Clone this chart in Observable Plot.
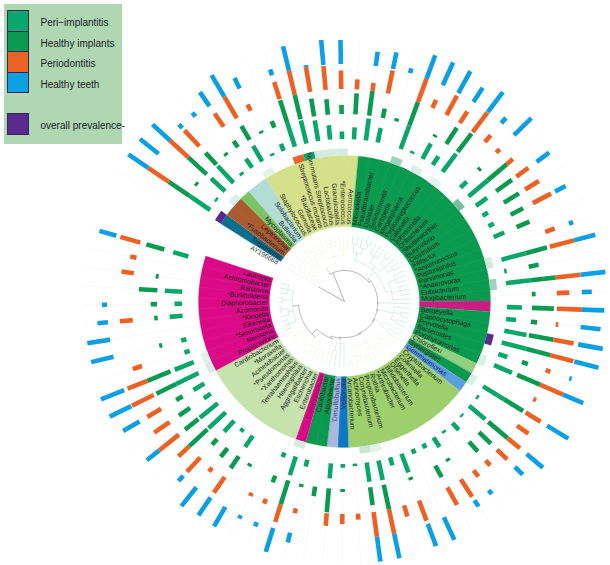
<!DOCTYPE html>
<html>
<head>
<meta charset="utf-8">
<script src="https://cdn.jsdelivr.net/npm/d3@7"></script>
<script src="https://cdn.jsdelivr.net/npm/@observablehq/plot@0.6"></script>
<style>
html,body{margin:0;padding:0;background:#fff}
#wrap{position:relative;width:610px;height:565px;overflow:hidden}
#legend{position:absolute;left:4px;top:4px;width:118px;height:140px;background:#aed7b2;
 font:10px "Liberation Sans",Arial,sans-serif;color:#1c1c2a}
#legend .s{position:absolute;left:3px;width:19.6px;box-sizing:content-box;border:.7px solid #2b2a55}
#legend .t{position:absolute;left:36.5px;white-space:nowrap;line-height:12px}
</style>
</head>
<body>
<div id="wrap"><div id="chart"></div>
<div id="legend">
 <div class="s" style="top:6px;height:19.6px;background:#0aa76c"></div><div class="t" style="top:13px">Peri−implantitis</div>
 <div class="s" style="top:26.5px;height:19.6px;background:#0a9a50"></div><div class="t" style="top:33.5px">Healthy implants</div>
 <div class="s" style="top:47px;height:19.6px;background:#ee6125"></div><div class="t" style="top:54px">Periodontitis</div>
 <div class="s" style="top:67.5px;height:19.6px;background:#0d9fe3"></div><div class="t" style="top:74.5px">Healthy teeth</div>
 <div class="s" style="top:109px;height:20px;background:#5b2a8e"></div><div class="t" style="top:115.5px">overall prevalence-</div>
</div></div>
<script>
// leaves run clockwise, first leaf is AY196668
const genera = ["AY196668","Treponema","*Fusobacterium","Leptotrichia","Mycoplasma","Bulleidia","Solobacterium",
"Staphylococcus","Gemella","*Bacillaceae","Streptococcus mutans","Non-mutans Streptococci","Lactobacillus","Granulicatella","*Enterococcus","Aerococcus",
"Mitsuokella","Pseudoramibacter","Dialister","Selenomonas","Centipeda","Megasphaera","Peptostreptococcus","Catonella","Johnsonella","Oribacterium","Shuttleworthia","Butyrivibrio","Clostridium","Filifactor","*Anaerococcus","Peptoniphilus","Parvimonas","*Anaerovorax","Eubacterium","Mogibacterium",
"",
"Bergeyella","Capnocytophaga","Prevotella","Bacteroides","Porphyromonas","Chloroflexi","Synergistes","Gemmatimonas",
"Cryptobacterium","Collinsella","Eggerthella","Olsenella","Bifidobacterium","Microbacterium","*Arthrobacter","Rothia","Propionibacterium","Corynebacterium","Actinomyces","Arcanobacterium",
"Veillonella","'Desulfobulbus","Atopobacter","Caulobacter","Campylobacter",
"Enterobacter","Escherichia","Aggregatibacter","Haemophilus","Terrahaemophilus","*Xanthomonas","*Pseudomonas","Acinetobacter","*Moraxella","Cardiobacterium",
"Propionivibrio","Neisseria","*Simonsiella","Eikenella","*Kingella","Azomonas","Diaphorobacter","*Burkholderia","Ralstonia","Achromobacter","Lautropia"];

const periImplantitis = [0,1,.1,.76,.92,.12,.44,.72,.1,.3,1,.95,.84,.58,.3,.48,.88,.59,0,1,.1,.7,.42,.9,0,.35,1,.55,.25,.24,.46,0,1,.1,1,0,.6,.4,.9,1,.38,.78,0,1,.1,.84,.08,.38,.1,.45,.2,.2,.8,.33,.8,.78,.1,.15,.6,0,.28,.78,.2,0,0,.55,.15,.59,.93,.92,.33,.5,1,.82,.22,.22,0,.52,.3,.7,0,0,.63];
const healthyImplants = [0,1,.12,1,.64,.12,.3,.64,.1,.28,.95,1,.72,.62,.36,.84,1,.38,.12,1,0,.1,.78,.92,0,.12,1,.78,.71,.56,.56,0,.88,.4,1,.15,.88,.25,1,1,.25,1,0,.88,0,1,.66,.53,0,.12,.53,0,.12,0,1,.72,0,.12,.96,.38,.12,1,.28,0,.12,.57,.44,.3,1,.68,.54,.3,.88,1,0,.12,0,.14,.25,.74,.12,0,.75];
const periodontitis = [0,1,0,1,.87,0,.64,1,.28,0,.72,1,1,.96,.74,.4,.32,.94,0,1,.36,.88,.55,.98,.36,.2,.32,.59,.65,.82,0,.4,1,0,1,.5,1,.1,.82,.96,.2,1,.12,.7,.56,.65,.57,.27,.32,.83,.8,0,.86,.46,1,1,.24,.4,.5,0,.2,.74,.2,.15,0,.76,.2,.78,.58,1,.74,.64,.97,.85,.39,0,0,.52,0,0,.5,.26,.83];
const healthyTeeth = [0,.96,.95,.95,.2,.2,.68,1,.46,0,.25,1,.08,1,.96,0,.58,.68,.2,1,1,1,.68,1,.28,.97,0,.62,0,.48,0,.18,.88,0,1,.4,.9,.8,1,1,.1,.88,0,1,0,.85,.44,0,.2,.3,0,1,.95,0,1,1,0,0,0,0,.4,1,.18,.15,.9,.86,.97,.28,0,.64,0,.76,.96,1,0,.92,.92,.42,.2,0,0,0,.7];

// overall prevalence strip: leaf position (from first leaf) and colour
const stripLeaves = [1,3,7,10,11,12,13,14,19,21,23,26,32,34,39,41,43,54,55,61,72,73];
const stripColors = ["#5b2a8e","#dcefe6","#e3f2ea","#ee6125","#0aa76c","#d5ebe1","#d5ebe1","#d5ebe1","#9fd2ba","#dcefe6","#e3f2ea","#78bfa0","#d5ebe1","#9fd2ba","#5b2a8e","#dcefe6","#dcefe6","#e3f2ea","#c9e5d8","#d5ebe1","#dcebe6","#e3f0ea"];

// coloured clade sectors: first and last leaf position, colour
const sectorFirst = [1,2,4,5,7,16,36,37,42,43,44,45,57,58,59,61,62,72];
const sectorLast  = [1,3,4,6,15,35,36,41,42,43,44,56,57,58,60,61,71,82];
const sectorColor = ["#0a6e8c","#aa5c30","#7cc465","#b2dcd6","#d5e08a","#0a9a4f","#c81e80","#0a9a4f","#93cf80","#0a9a4f","#5b9fdc","#9dcf6c","#0c78c4","#a9b9dd","#0a9a4f","#da0a86","#c6e2ad","#da0a86"];
const labelAccent = {0:"#333",1:"#12233a",44:"#1a1a6a",57:"#10205a",58:"#4b3a96",61:"#8a1058"};

// cladogram topology: [radius, stem weight, ...children]; 0 is a leaf
const cladeBase = [30,.5,0,0,[40,.5,0,0]];
const cladeBacilli = [38,.5,0,[44,.5,0,0],[46,.5,[54,.5,0,0,0],[56,.5,0,0,0],[52,.5,0,0,0]]];
const cladeClostridia = [42,.5,[50,.5,[58,.5,0,0],[56,.5,0,[62,.5,0,0]]],[46,.5,[54,.5,0,0,0],[52,.5,[60,.5,0,0],0,[58,.5,0,0]]],[48,.5,[55,.5,0,0,0],[57,.5,0,0,0],0]];
const cladeBacteroidetes = [50,.5,0,[58,.5,0,0],[56,.5,0,0]];
const cladeMisc = [44,.5,0,[52,.5,0,0]];
const cladeActino = [46,.5,[54,.5,0,0,[60,.5,0,0]],[52,.5,0,[58,.5,0,0,0]],[56,.5,0,0,[62,.5,0,0]]];
const cladeSmall = [42,.5,0,0,[50,.5,0,0]];
const cladeGamma = [48,.5,[55,.5,0,0,0,0,0],[53,.5,0,0,[60,.5,0,0,0]]];
const cladeBeta = [52,.5,[60,.5,0,0,0],[57,.5,0,[64,.5,0,0]],[62,.5,0,0],[58,.5,0,0,0]];
const ladderClades = [cladeClostridia,0,cladeBacteroidetes,cladeMisc,cladeActino,cladeSmall,0,cladeGamma];
const ladderRadii = [33,33.5,34,35,36,37,39,46];
const ladderTint = ["#c8e2d8","#c8e2d8","#cde5db","#e0ede3","#eef3e6","#d9e4de","#eef3e6","#f2f5e9"];

// geometry
const R = {inner:75, outer:146, strip:153, leaf:66, band:25};
const bases = [162.5,187.5,212.5,237.5];
const theta0 = -59.96, dTheta = 4.22;
const th = i => theta0 + dTheta*i;
const rad = a => a*Math.PI/180;
const px = (r,a) => r*Math.sin(rad(a));
const py = (r,a) => -r*Math.cos(rad(a));

// sector polygons
function ring(id,r0,r1,a0,a1,color){
  const out=[]; const n=Math.max(2,Math.ceil((a1-a0)/1.5));
  for(let j=0;j<=n;j++){const a=a0+(a1-a0)*j/n; out.push({id,color,x:px(r1,a),y:py(r1,a)});}
  for(let j=n;j>=0;j--){const a=a0+(a1-a0)*j/n; out.push({id,color,x:px(r0,a),y:py(r0,a)});}
  return out;
}
const sectorPts = sectorColor.flatMap((c,i)=>ring("s"+i,R.inner,R.outer,th(sectorFirst[i])-dTheta/2,th(sectorLast[i])+dTheta/2,c));
const stripPts = stripColors.flatMap((c,i)=>ring("p"+i,R.outer,R.strip,th(stripLeaves[i])-dTheta/2,th(stripLeaves[i])+dTheta/2,c));

// bars
const seriesList = [[periImplantitis,"#0aa76c"],[healthyImplants,"#0a9a50"],[periodontitis,"#ee6125"],[healthyTeeth,"#0d9fe3"]];
const bars = seriesList.flatMap(([vals,color],b)=>vals.map((v,i)=>({v,i,color,r0:bases[b],r1:bases[b]+v*R.band})).filter(d=>d.v>0));

// tree
const treeSeg=[], treeArc=[]; let leafNo=0, arcId=0;
function walk(node,color){
  if(node===0){ const a=th(leafNo++); return {a,r:R.leaf,leaf:true}; }
  const [r,w,...kids]=node;
  const res=kids.map(k=>walk(k,color));
  const first=res[0].a,last=res[res.length-1].a;
  const a=first+(last-first)*w;
  res.forEach(k=>treeSeg.push({a:k.a,r0:r,r1:k.r,color}));
  const id=arcId++;
  for(let j=0;j<=24;j++){const t=first+(last-first)*j/24; treeArc.push({id,color,x:px(r,t),y:py(r,t)});}
  return {a,r};
}
const backbone="#958f9e";
const rootA=walk(cladeBase,"#eaf1e6");
const rootB=walk(cladeBacilli,"#f0f3e2");
const ladderStops=ladderClades.map((c,i)=>walk(c,ladderTint[i]));
const betaStop=walk(cladeBeta,"#c8e2d8");
// backbone: spiral of nodes, outermost node first
let node=betaStop; 
for(let i=ladderStops.length-1;i>=0;i--){
  const r=ladderRadii[i], c=ladderStops[i];
  const a=c.a+(node.a-c.a)*.12;
  treeSeg.push({a:c.a,r0:r,r1:c.r,color:ladderTint[i]},{a:node.a,r0:r,r1:node.r,color:backbone});
  const id=arcId++;
  for(let j=0;j<=40;j++){const t=c.a+(node.a-c.a)*j/40; treeArc.push({id,color:backbone,x:px(r,t),y:py(r,t)});}
  node={a,r};
}
{ const r=31,a0=rootB.a,a1=node.a,id=arcId++;
  treeSeg.push({a:a0,r0:r,r1:rootB.r,color:"#cfd6c8"},{a:a1,r0:r,r1:node.r,color:backbone});
  for(let j=0;j<=30;j++){const t=a0+(a1-a0)*j/30; treeArc.push({id,color:backbone,x:px(r,t),y:py(r,t)});}
  treeSeg.push({a:a0+(a1-a0)*.08,r0:0,r1:r,color:backbone});
  treeSeg.push({a:rootA.a-6,r0:0,r1:rootA.r,color:backbone});
}

// labels
const labels = genera.map((name,i)=>({name,i,a:th(i),color:labelAccent[i]||"#1d1d1d"})).filter(d=>d.name);
const norm = a => ((a%360)+360)%360;
const rightSide = labels.filter(d=>norm(d.a)<180.2 && norm(d.a)>4);
const leftSide = labels.filter(d=>!(norm(d.a)<180.2 && norm(d.a)>4));

const spokes = genera.map((_,i)=>({i}));

const chart = Plot.plot({
  width:610, height:565, margin:0,
  style:{background:"transparent"},
  x:{domain:[-344,266],range:[0,610],axis:null},
  y:{domain:[-301,264],range:[0,565],axis:null},
  color:{type:"identity"},
  marks:[
    Plot.link(spokes,{x1:d=>px(R.strip,th(d.i)),y1:d=>py(R.strip,th(d.i)),x2:d=>px(262,th(d.i)),y2:d=>py(262,th(d.i)),stroke:"#f1f6f3",strokeWidth:.6}),
    Plot.line(sectorPts,{x:"x",y:"y",z:"id",fill:"color",stroke:"color",strokeWidth:.2,curve:"linear-closed"}),
    Plot.link(spokes.slice(1),{x1:d=>px(R.inner,th(d.i)-dTheta/2),y1:d=>py(R.inner,th(d.i)-dTheta/2),x2:d=>px(R.outer,th(d.i)-dTheta/2),y2:d=>py(R.outer,th(d.i)-dTheta/2),stroke:"#fff",strokeOpacity:.07,strokeWidth:.6}),
    Plot.line(stripPts,{x:"x",y:"y",z:"id",fill:"color",curve:"linear-closed",stroke:"none"}),
    Plot.link(bars,{x1:d=>px(d.r0,th(d.i)),y1:d=>py(d.r0,th(d.i)),x2:d=>px(d.r1,th(d.i)),y2:d=>py(d.r1,th(d.i)),stroke:"color",strokeWidth:4.6}),
    Plot.link(treeSeg,{x1:d=>px(d.r0,d.a),y1:d=>py(d.r0,d.a),x2:d=>px(d.r1,d.a),y2:d=>py(d.r1,d.a),stroke:"color",strokeWidth:.7}),
    Plot.line(treeArc,{x:"x",y:"y",z:"id",stroke:"color",strokeWidth:.7}),
    Plot.text(rightSide,{x:d=>px(77,d.a),y:d=>py(77,d.a),text:"name",rotate:d=>d.a-90,textAnchor:"start",fill:"color",fontSize:6.8,fontFamily:"Liberation Sans"}),
    Plot.text(leftSide,{x:d=>px(77,d.a),y:d=>py(77,d.a),text:"name",rotate:d=>d.a+90,textAnchor:"end",fill:"color",fontSize:6.8,fontFamily:"Liberation Sans"})
  ]
});
document.getElementById("chart").appendChild(chart);
</script>
</body>
</html>
